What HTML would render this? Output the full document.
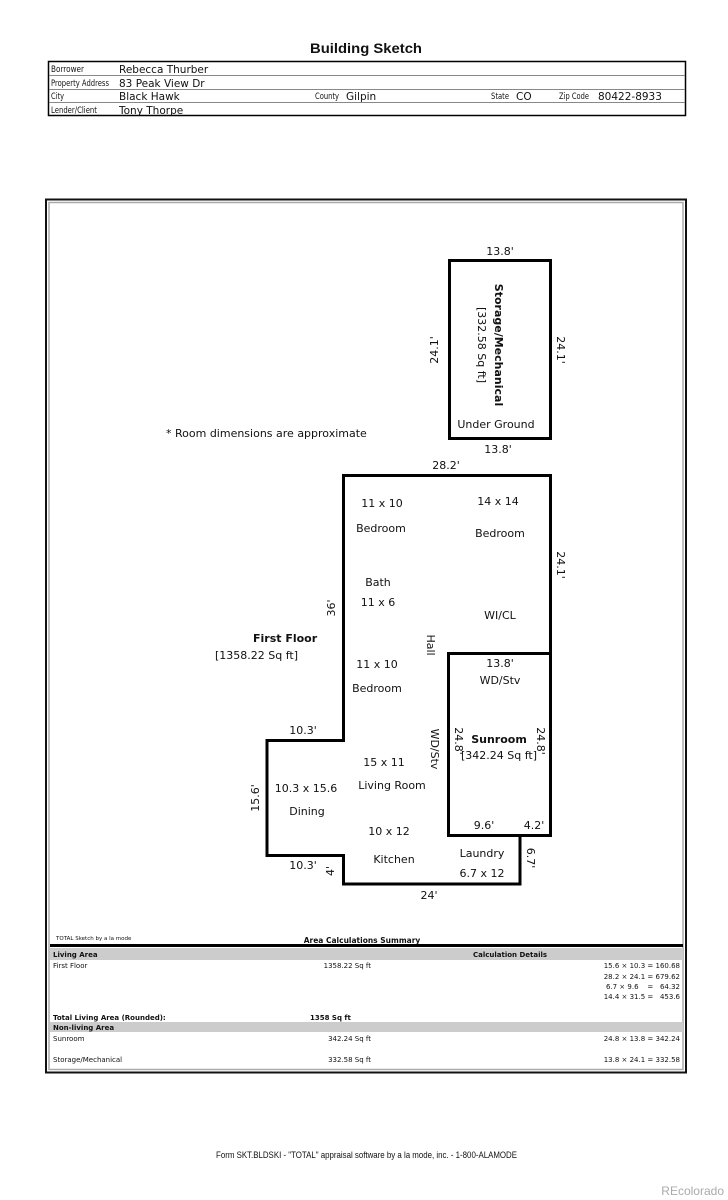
<!DOCTYPE html>
<html><head><meta charset="utf-8"><style>
body{margin:0;background:#fff;}
svg{display:block;}
text{font-family:"DejaVu Sans",sans-serif;fill:#111;}
.n{font-family:"Liberation Sans",sans-serif;}
</style></head><body>
<svg width="728" height="1200" viewBox="0 0 728 1200" xmlns="http://www.w3.org/2000/svg">
<rect width="728" height="1200" fill="#fff"/>
<text x="310" y="53" class="n" font-size="14" font-weight="bold" textLength="112" lengthAdjust="spacingAndGlyphs">Building Sketch</text>
<!-- header table -->
<rect x="48.5" y="61.5" width="637" height="54" fill="none" stroke="#000" stroke-width="1.5"/>
<g stroke="#888" stroke-width="1"><line x1="49" y1="75.5" x2="685" y2="75.5"/><line x1="49" y1="89.5" x2="685" y2="89.5"/><line x1="49" y1="102.5" x2="685" y2="102.5"/></g>
<g class="n" font-size="8.5">
<text x="51" y="72" textLength="33" lengthAdjust="spacingAndGlyphs">Borrower</text>
<text x="51" y="86" textLength="58" lengthAdjust="spacingAndGlyphs">Property Address</text>
<text x="51" y="99" textLength="13" lengthAdjust="spacingAndGlyphs">City</text>
<text x="51" y="113" textLength="46" lengthAdjust="spacingAndGlyphs">Lender/Client</text>
<text x="315" y="99" textLength="24" lengthAdjust="spacingAndGlyphs">County</text>
<text x="491" y="99" textLength="18" lengthAdjust="spacingAndGlyphs">State</text>
<text x="559" y="99" textLength="30" lengthAdjust="spacingAndGlyphs">Zip Code</text>
</g>
<g class="n" font-size="10.5">
<text x="119" y="73">Rebecca Thurber</text><text x="119" y="87">83 Peak View Dr</text><text x="119" y="100">Black Hawk</text><text x="119" y="114">Tony Thorpe</text>
<text x="346" y="100">Gilpin</text><text x="516" y="100">CO</text><text x="598" y="100">80422-8933</text>
</g>
<!-- frame -->
<rect x="46" y="199.5" width="640" height="873" fill="none" stroke="#111" stroke-width="2"/>
<rect x="49" y="202.5" width="634" height="867" fill="none" stroke="#aaa" stroke-width="1.5"/>
<!-- storage -->
<rect x="449.5" y="260.5" width="101" height="178" fill="none" stroke="#000" stroke-width="3"/>
<text x="500" y="255" text-anchor="middle" font-size="11">13.8'</text>
<text x="498" y="453" text-anchor="middle" font-size="11">13.8'</text>
<text x="496" y="428" text-anchor="middle" font-size="11">Under Ground</text>
<text transform="translate(438,350) rotate(-90)" text-anchor="middle" font-size="11">24.1'</text>
<text transform="translate(557,350) rotate(90)" text-anchor="middle" font-size="11">24.1'</text>
<text transform="translate(495,345) rotate(90)" text-anchor="middle" font-size="11" font-weight="bold">Storage/Mechanical</text>
<text transform="translate(478,345) rotate(90)" text-anchor="middle" font-size="11">[332.58 Sq ft]</text>
<text x="166" y="437" font-size="11">* Room dimensions are approximate</text>
<!-- main -->
<polygon points="343.5,475.5 550.5,475.5 550.5,835.5 520,835.5 520,884 343.5,884 343.5,855.5 267,855.5 267,740.5 343.5,740.5" fill="none" stroke="#000" stroke-width="3"/>
<rect x="448.5" y="653.5" width="102" height="182" fill="none" stroke="#000" stroke-width="3"/>
<g font-size="11">
<text x="446" y="469" text-anchor="middle">28.2'</text>
<text x="429" y="899" text-anchor="middle">24'</text>
<text x="303" y="734" text-anchor="middle">10.3'</text>
<text x="303" y="869" text-anchor="middle">10.3'</text>
<text transform="translate(334,871) rotate(-90)" text-anchor="middle">4'</text>
<text transform="translate(259,798) rotate(-90)" text-anchor="middle">15.6'</text>
<text transform="translate(335,608) rotate(-90)" text-anchor="middle">36'</text>
<text transform="translate(557,565) rotate(90)" text-anchor="middle">24.1'</text>
<text transform="translate(527,858) rotate(90)" text-anchor="middle">6.7'</text>
<text x="253" y="642" font-weight="bold">First Floor</text>
<text x="215" y="659">[1358.22 Sq ft]</text>
<text x="382" y="507" text-anchor="middle">11 x 10</text>
<text x="381" y="532" text-anchor="middle">Bedroom</text>
<text x="498" y="505" text-anchor="middle">14 x 14</text>
<text x="500" y="537" text-anchor="middle">Bedroom</text>
<text x="378" y="586" text-anchor="middle">Bath</text>
<text x="378" y="606" text-anchor="middle">11 x 6</text>
<text x="500" y="619" text-anchor="middle">WI/CL</text>
<text transform="translate(427,645) rotate(90)" text-anchor="middle">Hall</text>
<text x="377" y="668" text-anchor="middle">11 x 10</text>
<text x="377" y="692" text-anchor="middle">Bedroom</text>
<text x="500" y="667" text-anchor="middle">13.8'</text>
<text x="500" y="684" text-anchor="middle">WD/Stv</text>
<text transform="translate(431,749) rotate(90)" text-anchor="middle">WD/Stv</text>
<text transform="translate(455,741) rotate(90)" text-anchor="middle">24.8'</text>
<text transform="translate(537,741) rotate(90)" text-anchor="middle">24.8'</text>
<text x="499" y="743" text-anchor="middle" font-weight="bold">Sunroom</text>
<text x="499" y="759" text-anchor="middle">[342.24 Sq ft]</text>
<text x="384" y="766" text-anchor="middle">15 x 11</text>
<text x="392" y="789" text-anchor="middle">Living Room</text>
<text x="306" y="792" text-anchor="middle">10.3 x 15.6</text>
<text x="307" y="815" text-anchor="middle">Dining</text>
<text x="389" y="835" text-anchor="middle">10 x 12</text>
<text x="394" y="863" text-anchor="middle">Kitchen</text>
<text x="484" y="829" text-anchor="middle">9.6'</text>
<text x="534" y="829" text-anchor="middle">4.2'</text>
<text x="482" y="857" text-anchor="middle">Laundry</text>
<text x="482" y="877" text-anchor="middle">6.7 x 12</text>
</g>
<!-- summary -->
<text x="56" y="940" font-size="5.5" fill="#555">TOTAL Sketch by a la mode</text>
<text x="362" y="943" text-anchor="middle" font-size="7.5" font-weight="bold">Area Calculations Summary</text>
<rect x="50" y="944" width="633" height="3" fill="#000"/>
<rect x="50" y="948" width="633" height="12" fill="#ccc"/>
<rect x="50" y="1022" width="633" height="10" fill="#ccc"/>
<g font-size="7">
<text x="53" y="957" font-weight="bold">Living Area</text>
<text x="510" y="957" text-anchor="middle" font-weight="bold">Calculation Details</text>
<text x="53" y="968">First Floor</text>
<text x="371" y="968" text-anchor="end">1358.22 Sq ft</text>
<text x="680" y="968" text-anchor="end">15.6 × 10.3 = 160.68</text>
<text x="680" y="979" text-anchor="end">28.2 × 24.1 = 679.62</text>
<text x="680" y="989" text-anchor="end">6.7 × 9.6 &#160;&#160; = &#160;&#160;64.32</text>
<text x="680" y="999" text-anchor="end">14.4 × 31.5 = &#160;&#160;453.6</text>
<text x="53" y="1020" font-weight="bold">Total Living Area (Rounded):</text>
<text x="310" y="1020" font-weight="bold">1358 Sq ft</text>
<text x="53" y="1030" font-weight="bold">Non-living Area</text>
<text x="53" y="1041">Sunroom</text>
<text x="371" y="1041" text-anchor="end">342.24 Sq ft</text>
<text x="680" y="1041" text-anchor="end">24.8 × 13.8 = 342.24</text>
<text x="53" y="1062">Storage/Mechanical</text>
<text x="371" y="1062" text-anchor="end">332.58 Sq ft</text>
<text x="680" y="1062" text-anchor="end">13.8 × 24.1 = 332.58</text>
</g>
<text x="216" y="1158" font-size="9" class="n" textLength="301" lengthAdjust="spacingAndGlyphs">Form SKT.BLDSKI - "TOTAL" appraisal software by a la mode, inc. - 1-800-ALAMODE</text>
<text x="724" y="1195" text-anchor="end" font-size="12" class="n" style="fill:#aaa">REcolorado</text>
</svg>
</body></html>
